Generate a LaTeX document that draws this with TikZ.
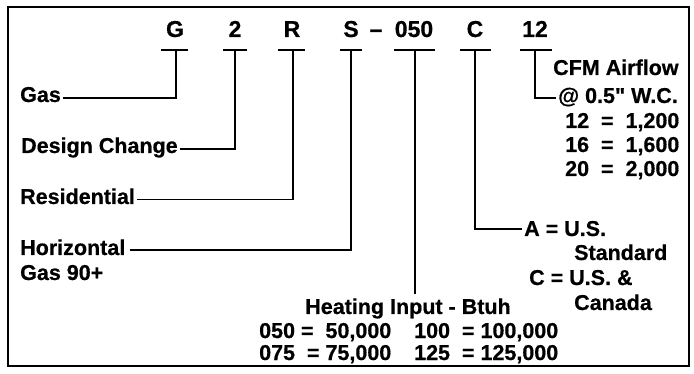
\documentclass[tikz,border=0pt]{standalone}
\usepackage{fontspec}
\newfontfamily\hv{Liberation Sans Bold}[FakeBold=0.6]
\begin{document}
\begin{tikzpicture}[x=1pt,y=-1pt,
  hdr/.style={font=\hv\fontsize{23}{27}\selectfont, inner sep=0pt, anchor=base},
  lbl/.style={font=\hv\fontsize{21.5}{25}\selectfont, inner sep=0pt, anchor=base west},
  lblc/.style={lbl, anchor=base},
  uline/.style={line width=1.2pt},
  conn/.style={line width=1.2pt}]
\useasboundingbox[fill=white] (0,0) rectangle (694,374);
\draw[line width=2.2pt] (8,7) rectangle (689,366);
% header code
\node[hdr] (hG)  at (175,37) {G};
\node[hdr] (h2)  at (235,37) {2};
\node[hdr] (hR)  at (292,37) {R};
\node[hdr] (hS)  at (351,37) {S};
\node[hdr] (hd)  at (376,37) {–};
\node[hdr] (h050) at (414,37) {050};
\node[hdr] (hC)  at (475,37) {C};
\node[hdr] (h12) at (535,37) {12};
% underlines
\draw[uline] (161,50) -- (188,50); \coordinate (uG) at (176,50);
\draw[uline] (223,50) -- (247,50); \coordinate (u2) at (235,50);
\draw[uline] (278,50) -- (305,50); \coordinate (uR) at (293,50);
\draw[uline] (340,50) -- (362,50); \coordinate (uS) at (351,50);
\draw[uline] (394,50) -- (435,50); \coordinate (u050) at (415,50);
\draw[uline] (460,50) -- (491,50); \coordinate (uC) at (475,50);
\draw[uline] (520,50) -- (552,50); \coordinate (u12) at (535,50);
% left labels
\node[lbl] (gas) at (20,102) {Gas};
\node[lbl] (dc)  at (21,153) {Design Change};
\node[lbl] (res) at (20,204) {Residential};
\node[lbl] (hor) at (20,255) {Horizontal};
\node[lbl] (g90) at (20,280) {Gas 90+};
\draw[conn] ([xshift=2pt,yshift=4pt]gas.base east) -| (uG);
\draw[conn] ([xshift=2pt,yshift=4pt]dc.base east) -| (u2);
\draw[conn] ([xshift=2pt,yshift=4.5pt]res.base east) -| (uR);
\draw[conn] ([xshift=4pt,yshift=5pt]hor.base east) -| (uS);
% heating input
\node[lblc] (heat) at (408,314) {Heating Input - Btuh};
\draw[conn] (u050) -- ([yshift=4pt]u050 |- heat.north);
\node[lbl] (r1a) at (259,338) {050 =~~50,000};
\node[lbl] (r1b) at (414,338) {100~~= 100,000};
\node[lbl] (r2a) at (259,360) {075~~= 75,000};
\node[lbl] (r2b) at (414,360) {125~~= 125,000};
% origin
\node[lbl] (aeq) at (524,236) {A = U.S.};
\node[lbl] (ast) at (574,260) {Standard};
\node[lbl] (ceq) at (529,285) {C = U.S. \&};
\node[lbl] (cca) at (574,310) {Canada};
\draw[conn] ([xshift=-2pt,yshift=7pt]aeq.base west) -| (uC);
% airflow
\node[lbl] (cfm) at (553,75) {CFM Airflow};
\node[lbl] (wc)  at (558,103) {@ 0.5" W.C.};
\draw[conn] ([xshift=-2pt,yshift=5pt]wc.base west) -| (u12);
\node[lbl] (f1) at (565,128) {12~~=~~1,200};
\node[lbl] (f2) at (565,152) {16~~=~~1,600};
\node[lbl] (f3) at (565,176) {20~~=~~2,000};
\end{tikzpicture}
\end{document}
